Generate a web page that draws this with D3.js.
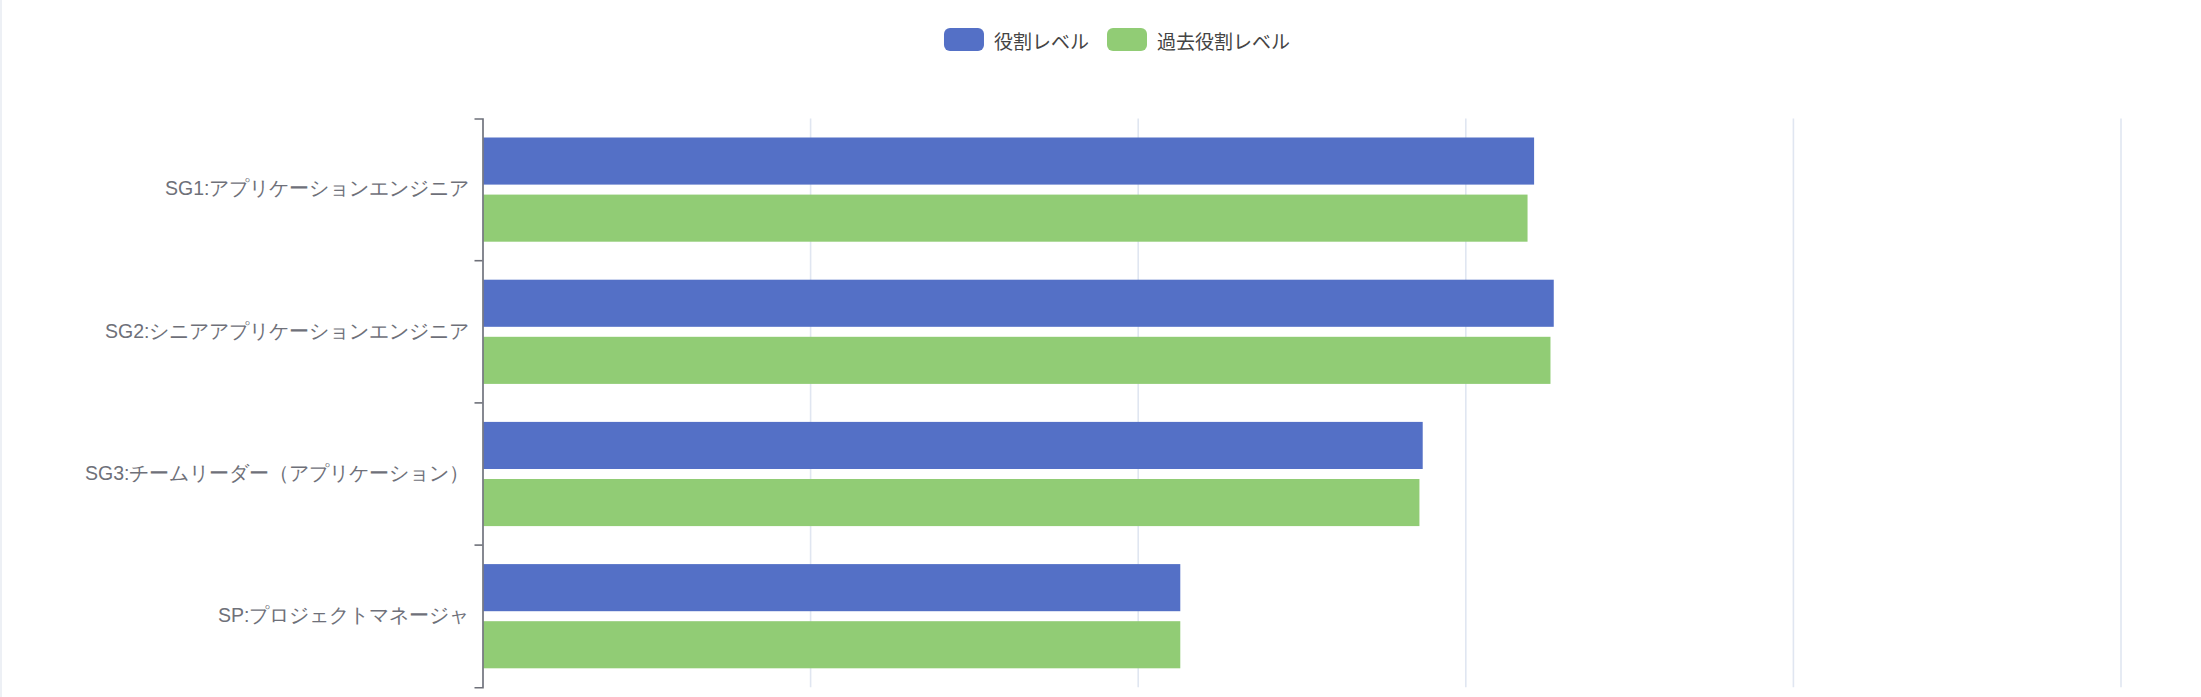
<!DOCTYPE html>
<html>
<head>
<meta charset="utf-8">
<script src="https://cdn.jsdelivr.net/npm/d3@7"></script>
<style>
  html, body { margin: 0; padding: 0; background: #fff; }
  body { width: 2201px; height: 697px; overflow: hidden; }
  #chart { position: relative; width: 2201px; height: 697px; border-left: 2px solid #edf0f5; box-sizing: border-box; }
  svg { display: block; font-family: "Noto Sans CJK JP", "Noto Sans", sans-serif; }
</style>
</head>
<body>
<div id="chart"></div>
<script>
const categories = [
    'SG1:アプリケーションエンジニア',
    'SG2:シニアアプリケーションエンジニア',
    'SG3:チームリーダー（アプリケーション）',
    'SP:プロジェクトマネージャ',
]
const seriesNames = ['役割レベル', '過去役割レベル']
const currentLevel = [3.21, 3.27, 2.87, 2.13]
const pastLevel = [3.19, 3.26, 2.86, 2.13]
const xTicks = [0, 1, 2, 3, 4, 5]
const colors = ['#5470c6', '#91cc75']

const width = 2199, height = 697
const margin = {top: 118.5, left: 480.5, right: 80.5}
const plotWidth = width - margin.left - margin.right
const bandStep = 142.2
const plotHeight = bandStep * categories.length

const data = categories.map((c, i) => ({
    category: c,
    values: [currentLevel[i], pastLevel[i]],
}))

const svg = d3.select('#chart').append('svg')
    .attr('width', width)
    .attr('height', height)

// Legend, centred above the plot
const legend = svg.append('g').attr('class', 'legend')
let lx = 0
seriesNames.forEach((name, i) => {
    const item = legend.append('g').attr('transform', `translate(${lx},0)`)
    item.append('rect')
        .attr('width', 40).attr('height', 23)
        .attr('rx', 6)
        .attr('fill', colors[i])
    const t = item.append('text')
        .attr('x', 50).attr('y', 12)
        .attr('dominant-baseline', 'central')
        .attr('font-size', 19)
        .attr('fill', '#444')
        .text(name)
    lx += 50 + t.node().getComputedTextLength() + 18
})
const legendWidth = lx - 18
legend.attr('transform', `translate(${1115 - legendWidth / 2}, 28)`)

const x = d3.scaleLinear().domain([0, 5]).range([0, plotWidth])
const y0 = d3.scaleBand().domain(categories).range([0, plotHeight])
const y1 = d3.scaleBand().domain([0, 1])
    .range([19, bandStep - 19])
    .paddingInner(0.175)

const g = svg.append('g')
    .attr('transform', `translate(${margin.left}, ${margin.top})`)

// Vertical grid lines (value labels sit below the visible area, so none drawn)
const xAxis = d3.axisBottom(x)
    .tickValues(xTicks)
    .tickSize(-plotHeight)
    .tickFormat('')
g.append('g')
    .attr('class', 'xAxis')
    .attr('transform', `translate(0, ${plotHeight})`)
    .call(xAxis)
    .call(a => a.select('.domain').remove())
    .call(a => a.selectAll('.tick line').attr('stroke', '#e0e6f1').attr('stroke-width', 1.6))

// Bars
const groups = g.selectAll('.cat').data(data)
    .join('g')
    .attr('class', 'cat')
    .attr('transform', d => `translate(0, ${y0(d.category)})`)
groups.selectAll('rect')
    .data(d => d.values.map((v, i) => ({v, i})))
    .join('rect')
    .attr('x', 0.8)
    .attr('y', d => y1(d.i))
    .attr('height', y1.bandwidth())
    .attr('width', d => x(d.v) - 0.8)
    .attr('fill', d => colors[d.i])

// Category axis with boundary ticks
const yAxis = d3.axisLeft(y0)
    .tickSize(0)
    .tickSizeOuter(8)
    .tickPadding(13)
g.append('g')
    .attr('class', 'yAxis')
    .call(yAxis)
    .call(a => a.select('.domain').attr('stroke', '#6e7079').attr('stroke-width', 1.6))
    .call(a => a.selectAll('.tick text')
        .attr('fill', '#6e7079')
        .attr('font-size', 19.5)
        .attr('dy', '0.3em'))
g.append('g')
    .selectAll('line')
    .data(categories.slice(1))
    .join('line')
    .attr('x1', -8).attr('x2', 0)
    .attr('y1', d => y0(d)).attr('y2', d => y0(d))
    .attr('stroke', '#6e7079')
    .attr('stroke-width', 1.6)
</script>
</body>
</html>
